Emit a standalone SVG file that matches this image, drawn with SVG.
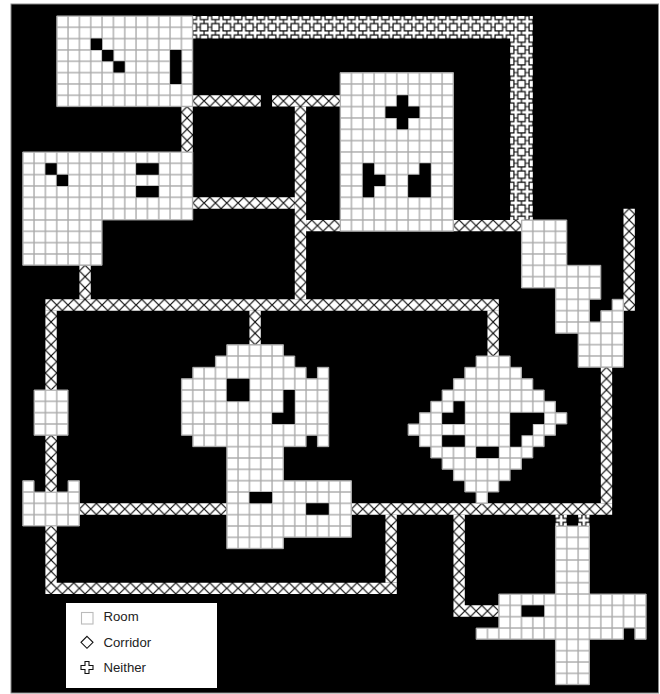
<svg xmlns="http://www.w3.org/2000/svg" width="660" height="694" viewBox="0 0 660 694">
<style>
.room{fill:url(#roomTile);stroke:#b4b4b4;stroke-width:.08}
.hole{fill:#000}
.cor{fill:url(#corTile)}
.nei{fill:url(#neiTile)}
.lbl{font-family:"Liberation Sans",Arial,sans-serif;font-size:13.2px;fill:#222}
</style>
<defs>
<pattern id="roomTile" width="1" height="1" patternUnits="userSpaceOnUse"><rect width="1" height="1" fill="#fff" stroke="#aaa" stroke-width=".12"/></pattern>
<pattern id="corTile" width="1" height="1" patternUnits="userSpaceOnUse"><rect width="1" height="1" fill="#fff"/><path d="M.5,0L1,.5L.5,1L0,.5Z" fill="none" stroke="#111" stroke-width=".1"/></pattern>
<pattern id="neiTile" width="1" height="1" patternUnits="userSpaceOnUse"><rect width="1" height="1" fill="#fff"/><path d="M.33,0H.67V.33H1V.67H.67V1H.33V.67H0V.33H.33Z" fill="none" stroke="#000" stroke-width=".1"/></pattern>
</defs>
<rect width="660" height="694" fill="#fff"/>
<rect x="11" y="4" width="647.5" height="689" fill="#000" stroke="#888" stroke-width="1"/>
<g transform="translate(11.4,4.6) scale(11.335)">
<g id="connectors">
<path class="nei" d="M16,1H46V19H44V3H16Z"/>
<path class="nei" d="M48,45H49V46H48Z"/>
<path class="nei" d="M50,45H51V46H50Z"/>
<path class="cor" d="M16,8H22V9H16Z"/>
<path class="cor" d="M23,8H29V9H23Z"/>
<path class="cor" d="M15,9H16V13H15Z"/>
<path class="cor" d="M16,17H25V18H16Z"/>
<path class="cor" d="M25,9H26V26H25Z"/>
<path class="cor" d="M26,19H29V20H26Z"/>
<path class="cor" d="M39,19H45V20H39Z"/>
<path class="cor" d="M3,26H43V27H3Z"/>
<path class="cor" d="M6,23H7V26H6Z"/>
<path class="cor" d="M3,27H4V34H3Z"/>
<path class="cor" d="M3,38H4V43H3Z"/>
<path class="cor" d="M3,46H4V51H34V52H3Z"/>
<path class="cor" d="M33,45H34V51H33Z"/>
<path class="cor" d="M6,44H19V45H6Z"/>
<path class="cor" d="M30,44H53V45H30Z"/>
<path class="cor" d="M21,27H22V30H21Z"/>
<path class="cor" d="M42,27H43V31H42Z"/>
<path class="cor" d="M54,18H55V27H54Z"/>
<path class="cor" d="M52,32H53V44H52Z"/>
<path class="cor" d="M39,45H40V53H43V54H39Z"/>
</g>
<g id="room-a">
<path class="room" d="M4,1H16V9H4Z"/>
<path class="hole" d="M7,3H8V4H7ZM8,4H9V5H8ZM9,5H10V6H9ZM14,4H15V7H14Z"/>
</g>
<g id="room-b">
<path class="room" d="M1,13H16V19H8V23H1Z"/>
<path class="hole" d="M3,14H4V15H3ZM4,15H5V16H4ZM11,14H13V15H11ZM11,16H13V17H11Z"/>
</g>
<g id="room-c">
<path class="room" d="M29,6H39V20H29Z"/>
<path class="hole" d="M34,8H35V9H36V10H35V11H34V10H33V9H34ZM31,14H32V15H33V16H32V17H31ZM36,14H37V17H35V15H36Z"/>
</g>
<g id="room-d">
<path class="room" d="M45,19H49V23H52V26H51V28H52V27H53V26H54V32H50V29H48V25H45Z"/>
</g>
<g id="room-e">
<path class="room" d="M2,34H5V38H2Z"/>
</g>
<g id="room-f">
<path class="room" d="M1,42H2V43H5V42H6V46H1Z"/>
</g>
<g id="room-g">
<path class="room" d="M19,30H24V31H25V32H26V33H27V32H28V39H27V38H26V39H24V42H30V47H24V48H19V39H16V38H15V33H16V32H18V31H19Z"/>
<path class="hole" d="M19,33H21V35H19ZM24,34H25V37H23V36H24ZM21,43H23V44H21ZM26,44H28V45H26Z"/>
</g>
<g id="room-h">
<path class="room" d="M48,46H51V52H56V56H55V55H54V56H51V60H48V56H41V55H43V52H48Z"/>
<path class="hole" d="M45,53H47V54H45Z"/>
</g>
<g id="room-i">
<path class="room" d="M41,31H44V32H45V33H46V34H47V35H48V36H49V37H48V38H47V39H46V40H45V41H44V42H43V43H42V44H41V43H40V42H39V41H38V40H37V39H36V38H35V37H36V36H37V35H38V34H39V33H40V32H41Z"/>
<path class="hole" d="M39,35H40V37H38V36H39ZM38,38H40V39H38ZM44,36H47V37H46V38H45V39H44ZM41,39H43V40H41Z"/>
</g>
</g>
<g id="legend">
<rect x="66" y="603" width="151" height="85" fill="#fff"/>
<rect x="81.500" y="612.500" width="11.500" height="11.500" fill="#fff" stroke="#bbb" stroke-width="1.100"/>
<text class="lbl" x="103.500" y="621">Room</text>
<path d="M87,636.300L93,642.300L87,648.300L81,642.300Z" fill="#fff" stroke="#111" stroke-width="1.100"/>
<text class="lbl" x="103.500" y="647">Corridor</text>
<path d="M85,661.500H89V665.500H93V669.500H89V673.500H85V669.500H81V665.500H85Z" fill="#fff" stroke="#111" stroke-width="1.100"/>
<text class="lbl" x="103.500" y="672">Neither</text>
</g>
</svg>
